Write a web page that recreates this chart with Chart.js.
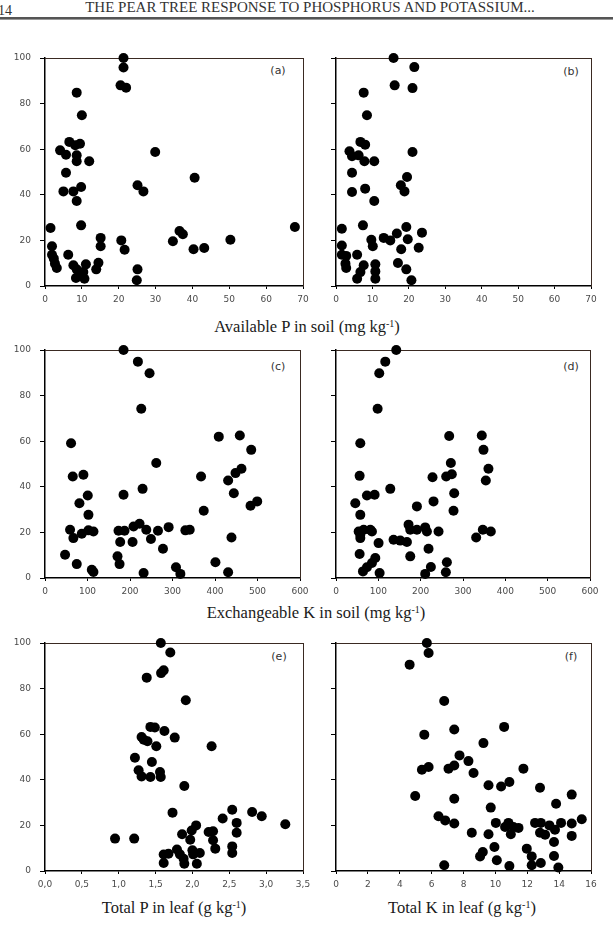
<!DOCTYPE html>
<html><head><meta charset="utf-8">
<script src="https://cdn.jsdelivr.net/npm/chart.js@4.4.1/dist/chart.umd.min.js"></script>
<style>
html,body{margin:0;padding:0;background:#fff;}
body{width:613px;height:939px;position:relative;overflow:hidden;font-family:"Liberation Serif","Times New Roman",serif;}
canvas{position:absolute;}
.hdr{position:absolute;top:-1px;font-size:15px;line-height:17px;color:#333;white-space:nowrap;}
.rule{position:absolute;left:0;width:613px;top:17px;height:2px;background:#555;}
.rule2{position:absolute;left:0;width:613px;top:19px;height:1px;background:#999;}
.axt{position:absolute;font-size:16.5px;line-height:18px;color:#1a1a1a;white-space:nowrap;transform:translate(-50%,-50%);}
.axt sup{font-size:10px;line-height:0;vertical-align:5px;}
.pl{position:absolute;font-family:"DejaVu Sans",sans-serif;font-size:11px;color:#333;transform:translate(-50%,-50%);white-space:nowrap;}
</style>
</head>
<body>
<div class="hdr" style="left:-2px;top:2px;font-size:14px;">14</div>
<div class="hdr" style="left:310px;transform:translateX(-50%);">THE PEAR TREE RESPONSE TO PHOSPHORUS AND POTASSIUM...</div>
<div class="rule"></div><div class="rule2"></div>

<div class="axt" style="left:307px;top:327px;">Available P in soil (mg kg<sup>-1</sup>)</div>
<div class="axt" style="left:316px;top:613px;">Exchangeable K in soil (mg kg<sup>-1</sup>)</div>
<div class="axt" style="left:174px;top:908px;">Total P in leaf (g kg<sup>-1</sup>)</div>
<div class="axt" style="left:462px;top:908px;">Total K in leaf (g kg<sup>-1</sup>)</div>

<div class="pl" style="left:278px;top:70px;">(a)</div>
<div class="pl" style="left:571px;top:71px;">(b)</div>
<div class="pl" style="left:278px;top:366px;">(c)</div>
<div class="pl" style="left:571px;top:366px;">(d)</div>
<div class="pl" style="left:279px;top:656px;">(e)</div>
<div class="pl" style="left:571px;top:656px;">(f)</div>

<script>
// ---- Data (relative yield, %) ----
const yTickLabels = ['0','20','40','60','80','100'];

// (a) Available P in soil (mg kg-1)
const aX = [21.3,21.3,20.5,22.0,8.6,10.0,6.6,9.5,8.2,4.1,5.7,8.6,8.6,12.0,29.9,5.7,40.6,25.1,26.7,5.0,7.7,9.8,8.6,9.8,1.5,67.8,36.5,37.4,34.7,15.1,15.1,20.7,21.6,50.3,40.3,43.2,1.9,1.9,2.4,2.7,3.2,6.3,7.7,8.6,8.4,10.4,10.7,11.1,10.0,13.9,14.5,25.1,24.9];
const aY = [100,95.8,88,87,84.8,74.9,63.2,62.4,61.7,59.5,57.6,57.3,54.7,54.7,58.8,49.7,47.5,44.2,41.5,41.5,41.5,43.4,37.3,26.6,25.4,25.9,24.1,22.7,19.6,21.1,17.4,20,15.9,20.3,16.1,16.7,17.4,13.7,12,9.8,7.9,13.7,9.1,7.3,3.5,6.1,3.2,9.5,4.7,7.3,10.2,7.3,2.5];

// (b) Available P in soil (mg kg-1)
const bX = [15.8,21.5,16.1,21.0,7.6,8.5,6.7,8.0,3.7,4.4,6.2,7.8,10.5,21.0,4.4,19.5,17.8,18.8,4.4,8.0,10.5,7.4,1.6,19.3,23.6,16.7,13.1,14.9,9.7,10.1,19.7,17.9,22.7,1.6,1.6,2.8,2.6,2.8,5.8,7.6,6.7,5.8,10.8,10.8,10.8,17.0,19.3,20.7];
const bY = [100,96,88,86.8,84.8,74.9,63.2,62,59.1,56.9,57.3,54.7,54.7,58.8,49.7,47.8,44.2,41.5,41.2,42.7,37.3,26.6,25.1,25.9,23.4,23,21.1,20,20.3,17.4,20.5,16.1,16.8,17.8,13.7,13.2,9.8,7.9,13.7,9.1,6.1,3.2,9.5,6.4,3.2,10.1,7.3,2.5];
const pTickLabels = ['0','10','20','30','40','50','60','70'];

// (c) Exchangeable K in soil (mg kg-1)
const cX = [184.8,218.6,246,226.5,61.3,408.9,458.4,485.2,261.8,65.3,90.4,367.2,462.3,448.2,430.9,229.6,100.6,184.8,444.3,81,102.2,373.5,483.6,499.3,59,66.8,86.5,102.2,114,173,187.1,208.4,222.5,238.3,176.9,206,249.3,265.8,290.9,330.3,340.5,277.6,438.8,47.2,74.7,170.6,175.4,110.1,114,232,308.2,318.5,401,430.9];
const cY = [100,94.9,89.8,74.2,59.1,62,62.5,56.2,50.4,44.5,45.3,44.5,47.9,46,42.8,39.1,36.2,36.5,37.2,32.8,27.7,29.5,31.7,33.6,21.2,17.5,19.4,20.9,20.4,20.7,20.7,22.6,23.8,21.2,15.8,15.8,17.1,20.7,22.3,20.9,21.2,12.8,17.8,10.2,6.1,9.5,6.1,3.6,2.6,2.2,4.7,1.8,6.9,2.5];

// (d) Exchangeable K in soil (mg kg-1)
const dX = [142.3,116.4,102.2,98.3,57.4,267.4,344.4,348.4,271.3,55.8,273.6,260.3,228,360.1,353.9,128.2,73.1,91.2,279.2,45.6,191.1,230.4,277.6,57.4,53.5,57.4,65.3,81,84.9,57.4,171.4,175.4,191.1,210.7,214.7,242.2,136,151.8,167.5,100.6,331.1,346.8,365.7,55.8,175.4,218.6,92.8,84.9,73.1,63.7,103,224.1,210.7,261.9,259.5];
const dY = [100,94.9,89.8,74.2,59.1,62.3,62.5,56.2,50.4,44.8,45.5,44.5,44.2,47.9,42.8,39.1,36.2,36.5,37.2,32.8,31.4,33.6,29.5,27.7,20.4,19,21.2,21.2,20.4,17.5,23.4,21.2,21.2,22.2,20.4,20.4,16.8,16.4,15.8,15.3,17.8,21.2,20.4,10.5,9.5,12.8,8.8,6.6,4.7,2.9,2.2,4.8,1.8,6.9,2.5];
const kTickLabels = ['0','100','200','300','400','500','600'];

// (e) Total P in leaf (g kg-1)
const eX = [1.571,1.70,1.61,1.575,1.38,1.91,1.43,1.49,1.62,1.76,1.31,1.34,1.39,1.51,2.26,1.22,1.45,1.27,1.31,1.43,1.56,1.57,1.89,1.73,2.41,2.54,2.81,2.94,3.26,2.6,2.6,2.05,1.99,2.22,2.28,2.28,2.31,1.86,1.97,2.54,2.54,0.95,1.21,1.61,1.675,1.79,1.83,1.88,1.89,2.0,2.01,2.1,2.06,1.61];
const eY = [100,95.8,88,86.8,84.8,74.9,63.2,62.9,61.4,58.5,58.8,57.6,56.9,54.7,54.7,49.7,47.8,44.2,41.5,41.2,43.4,41.2,37.3,25.6,23,26.9,25.9,24,20.5,21.1,16.8,20,17.8,17.1,17.4,13.5,9.8,16.1,13.7,10.8,7.9,14.2,14.2,7.2,7.6,9.4,7.3,5.4,3.2,9.1,7.3,7.9,3.2,3.5];
const eTickLabels = ['0,0','0,5','1,0','1,5','2,0','2,5','3,0','3,5'];

// (f) Total K in leaf (g kg-1)
const fX = [5.70,5.81,4.62,6.79,7.42,10.55,5.54,9.25,7.75,8.31,5.39,5.81,7.06,7.42,8.63,11.76,9.57,10.36,10.88,12.8,4.97,7.42,14.79,13.81,9.71,6.43,6.85,7.42,10.03,10.82,10.61,11.13,11.45,10.97,12.49,12.85,13.39,13.74,14.12,14.79,15.42,12.8,13.12,8.52,9.57,14.79,13.68,9.94,11.97,9.21,9.04,10.09,12.28,12.28,12.85,13.68,6.79,10.88,13.95];
const fY = [100,95.6,90.5,74.6,62.1,63.2,59.8,56.1,50.7,48.2,44.4,45.6,44.9,46.3,43,44.9,37.6,37.1,39,36.5,32.9,31.7,33.5,29.5,27.8,24,22.2,20.8,21.1,21.1,19.3,19.3,18.9,16.1,21.1,21.1,20,18.1,21.1,20.8,22.7,16.8,15.9,16.8,16.1,15.4,12.7,10.5,9.8,8.3,6.4,4.7,6.4,2.5,3.5,6.6,2.5,2.2,1.5];
const fTickLabels = ['0','2','4','6','8','10','12','14','16'];

// ---- Drawing ----
const PADT = 15, PADR = 14, YW = 45, XH = 25;
const tickFont = {family: '"DejaVu Sans", sans-serif', size: 9};
const frameColor = '#3a2a22';

function panel(xs, ys, box, xMin, xMax, xStep, xLabels, showY) {
  const c = document.createElement('canvas');
  const w = box.r - box.l + YW + PADR, h = box.b - box.t + PADT + XH;
  c.width = w; c.height = h;
  c.style.left = (box.l - YW) + 'px'; c.style.top = (box.t - PADT) + 'px';
  c.style.width = w + 'px'; c.style.height = h + 'px';
  document.body.appendChild(c);
  new Chart(c, {
    type: 'scatter',
    data: { datasets: [{
      data: xs.map((x, i) => ({x: x, y: ys[i]})),
      pointRadius: 5, pointBackgroundColor: '#000', pointBorderColor: '#000',
      pointBorderWidth: 0, showLine: false, clip: false
    }]},
    options: {
      responsive: false, animation: false, devicePixelRatio: 1, events: [],
      layout: {padding: {top: PADT, right: PADR, left: 0, bottom: 0}},
      plugins: {legend: {display: false}, tooltip: {enabled: false}},
      scales: {
        x: {type: 'linear', position: 'bottom', min: xMin, max: xMax,
            ticks: {stepSize: xStep, autoSkip: false, maxRotation: 0, font: tickFont, color: '#4a4a4a', padding: 5,
                    callback: (v, i) => xLabels[i]},
            grid: {display: true, drawOnChartArea: false, drawTicks: true, tickLength: 3, color: '#000', lineWidth: 1},
            border: {display: true, color: '#000', width: 1.5},
            afterFit: s => { s.height = XH; }},
        y: {type: 'linear', position: 'left', min: 0, max: 100,
            ticks: {stepSize: 20, display: showY, font: tickFont, color: '#4a4a4a', padding: 9,
                    callback: (v, i) => yTickLabels[i]},
            grid: {display: true, drawOnChartArea: false, drawTicks: true, tickLength: 5, color: '#000', lineWidth: 1},
            border: {display: true, color: '#000', width: 1.5},
            afterFit: s => { s.width = YW; }},
        x2: {type: 'linear', position: 'top', display: true, min: xMin, max: xMax,
             ticks: {display: false}, grid: {display: false},
             border: {display: true, color: frameColor, width: 1},
             afterFit: s => { s.height = 0; }},
        y2: {type: 'linear', position: 'right', display: true, min: 0, max: 100,
             ticks: {display: false}, grid: {display: false},
             border: {display: true, color: frameColor, width: 1},
             afterFit: s => { s.width = 0; }}
      }
    }
  });
}

panel(aX, aY, {l: 45, t: 58, r: 303, b: 286}, 0, 70, 10, pTickLabels, true);
panel(bX, bY, {l: 336, t: 58, r: 591, b: 286}, 0, 70, 10, pTickLabels, false);
panel(cX, cY, {l: 45, t: 350, r: 300, b: 578}, 0, 600, 100, kTickLabels, true);
panel(dX, dY, {l: 336, t: 350, r: 590, b: 578}, 0, 600, 100, kTickLabels, false);
panel(eX, eY, {l: 45, t: 643, r: 303, b: 871}, 0, 3.5, 0.5, eTickLabels, true);
panel(fX, fY, {l: 336, t: 643, r: 591, b: 871}, 0, 16, 2, fTickLabels, false);
</script>
</body></html>
